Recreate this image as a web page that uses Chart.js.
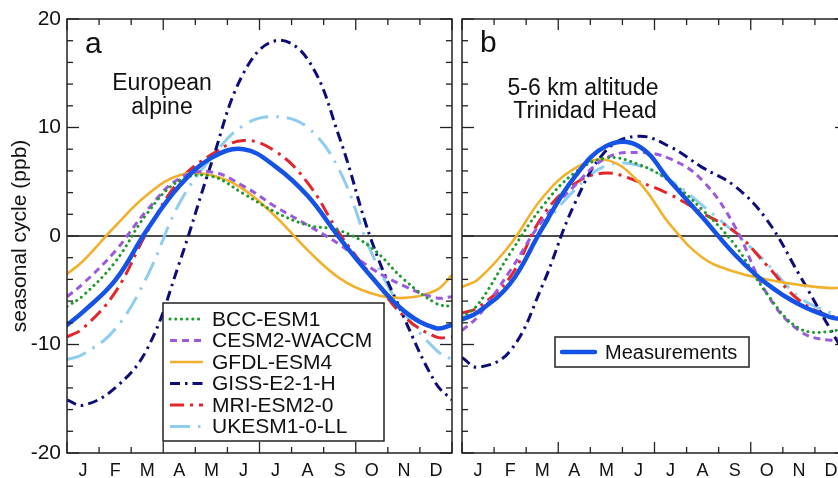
<!DOCTYPE html>
<html><head><meta charset="utf-8">
<script src="https://cdn.jsdelivr.net/npm/chart.js@4.4.1/dist/chart.umd.min.js"></script>
<style>
html,body{margin:0;padding:0;overflow:hidden;background:#fff;width:838px;height:478px;}
canvas{position:absolute;top:0;}
#cA{left:0}
#cB{left:457px}
</style></head><body>
<canvas id="cA" width="457" height="478"></canvas>
<canvas id="cB" width="400" height="478"></canvas>
<script>
// ---------- data ----------
const monthLabels = ['J','F','M','A','M','J','J','A','S','O','N','D'];
const xPos = [0,0.5,1.5,2.5,3.5,4.5,5.5,6.5,7.5,8.5,9.5,10.5,11.5,12];
const yTickValues = [-20,-10,0,10,20];
const modelNames = ['BCC-ESM1','CESM2-WACCM','GFDL-ESM4','GISS-E2-1-H','MRI-ESM2-0','UKESM1-0-LL'];
const measName = 'Measurements';

// panel a: European alpine
const aMeas  = [-8.2,-7.0,-4.1,0.6,4.6,7.2,8.0,6.4,3.7,-0.2,-3.8,-6.9,-8.5,-8.2];
const aBCC   = [-6.5,-5.5,-2.4,2.1,5.1,5.5,3.9,2.2,1.0,0.5,-1.1,-4.0,-6.2,-6.5];
const aCESM  = [-5.6,-4.4,-1.4,2.4,5.3,5.9,4.6,2.7,1.0,-0.8,-3.0,-4.6,-5.7,-5.6];
const aGFDL  = [-3.5,-2.3,0.9,3.8,5.6,5.6,4.3,1.8,-1.3,-3.9,-5.3,-5.7,-5.0,-3.6];
const aGISS  = [-15.1,-15.6,-14.0,-10.4,-2.5,6.7,15.0,18.0,16.3,9.0,-0.5,-7.5,-13.6,-15.1];
const aMRI   = [-9.3,-8.5,-5.2,0.4,5.1,7.5,8.8,7.8,4.9,0.2,-3.7,-7.4,-9.3,-9.3];
const aUKESM = [-11.4,-10.9,-8.6,-3.7,3.0,7.2,10.2,11.0,10.0,6.0,-1.6,-7.0,-10.5,-11.4];

// panel b: 5-6 km altitude, Trinidad Head
const bMeas  = [-7.7,-7.0,-4.4,0.7,5.4,8.3,8.3,5.0,1.7,-1.7,-4.4,-6.3,-7.5,-7.7];
const bBCC   = [-7.5,-6.3,-1.6,2.7,5.8,7.2,6.6,5.0,2.4,-0.8,-5.3,-8.5,-8.8,-8.2];
const bCESM  = [-8.7,-7.4,-3.2,1.4,4.6,7.2,7.7,7.1,5.1,0.9,-5.3,-8.7,-9.6,-9.0];
const bGFDL  = [-4.7,-4.0,-0.8,3.5,6.2,7.0,5.0,1.0,-2.0,-3.3,-4.0,-4.5,-4.8,-4.7];
const bGISS  = [-11.2,-12.1,-10.6,-4.6,2.9,7.9,9.2,8.2,6.3,4.6,1.5,-3.5,-8.7,-11.2];
const bMRI   = [-7.1,-6.6,-3.8,1.8,4.8,5.8,5.0,3.8,2.1,0.4,-2.7,-5.9,-7.4,-7.3];
const bUKESM = [-7.5,-7.0,-4.4,0.6,4.2,6.5,6.5,5.1,2.8,0.3,-2.5,-5.6,-7.1,-7.4];

// ---------- styles ----------
const FONT = "'Liberation Sans', Arial, Helvetica, sans-serif";
const styles = {
  'BCC-ESM1':    {color:'#1f9a2c', width:3,   dash:[0.1,5.6], cap:'round'},
  'CESM2-WACCM': {color:'#9b59de', width:3,   dash:[7,5],     cap:'butt'},
  'GFDL-ESM4':   {color:'#f2b12c', width:2.6, dash:[],        cap:'butt'},
  'GISS-E2-1-H': {color:'#0d0d7a', width:3,   dash:[10,5,2.5,5], cap:'butt'},
  'MRI-ESM2-0':  {color:'#e3262b', width:3,   dash:[14,6,3,6],   cap:'butt'},
  'UKESM1-0-LL': {color:'#8ecdf0', width:3,   dash:[20,8,2.5,8], cap:'butt'},
  'Measurements':{color:'#1553e6', width:4.5, dash:[],        cap:'round'}
};

function makeDataset(name, values) {
  const s = styles[name];
  return {
    label: name,
    data: xPos.map((x, i) => ({x: x, y: values[i]})),
    borderColor: s.color,
    backgroundColor: s.color,
    borderWidth: s.width,
    borderDash: s.dash,
    borderCapStyle: s.cap,
    pointRadius: 0,
    tension: 0.4,
    fill: false
  };
}

function seriesFor(meas, list) {
  const ds = [makeDataset(measName, meas)];
  modelNames.forEach((n, i) => ds.push(makeDataset(n, list[i])));
  return ds;
}

function strokeLine(ctx, x1, y1, x2, y2) {
  ctx.beginPath(); ctx.moveTo(x1, y1); ctx.lineTo(x2, y2); ctx.stroke();
}

function decorPlugin(cfg) {
  return {
    id: 'decor',
    beforeDatasetsDraw(chart) {
      const {ctx, chartArea: a, scales: {y}} = chart;
      ctx.save();
      ctx.strokeStyle = '#111'; ctx.lineWidth = 1.3;
      const y0 = y.getPixelForValue(0);
      strokeLine(ctx, a.left, y0, a.right, y0);
      ctx.restore();
    },
    afterDraw(chart) {
      const {ctx, chartArea: a, scales: {x, y}} = chart;
      ctx.save();
      ctx.strokeStyle = '#222'; ctx.lineWidth = 1.5; ctx.setLineDash([]);
      ctx.strokeRect(a.left, a.top, a.right - a.left, a.bottom - a.top);
      ctx.lineWidth = 1.3;
      for (let v = -20; v <= 20; v += 2) {
        const py = y.getPixelForValue(v);
        const len = (v % 10 === 0) ? 12 : 6;
        strokeLine(ctx, a.left, py, a.left + len, py);
        strokeLine(ctx, a.right, py, a.right - len, py);
      }
      for (let m = 0; m <= 12; m++) {
        const px = x.getPixelForValue(m);
        const len = (m % 3 === 0) ? 11 : 6;
        strokeLine(ctx, px, a.bottom, px, a.bottom - len);
        strokeLine(ctx, px, a.top, px, a.top + len);
      }
      // annotations
      ctx.fillStyle = '#111';
      ctx.textBaseline = 'alphabetic';
      ctx.textAlign = 'left';
      ctx.font = '30px ' + FONT;
      ctx.fillText(cfg.panel.text, cfg.panel.x, cfg.panel.y);
      ctx.textAlign = 'center';
      ctx.font = '23px ' + FONT;
      cfg.notes.forEach(n => ctx.fillText(n.text, n.x, n.y));
      // legend
      const L = cfg.legend;
      ctx.fillStyle = '#fff';
      ctx.fillRect(L.x1, L.y1, L.x2 - L.x1, L.y2 - L.y1);
      ctx.strokeStyle = '#222'; ctx.lineWidth = 1.5;
      ctx.strokeRect(L.x1, L.y1, L.x2 - L.x1, L.y2 - L.y1);
      ctx.font = L.font + 'px ' + FONT;
      ctx.textAlign = 'left'; ctx.textBaseline = 'middle';
      L.names.forEach((name, i) => {
        const s = styles[name];
        const ry = L.rowY + i * L.step;
        ctx.strokeStyle = s.color; ctx.lineWidth = s.width;
        ctx.lineCap = s.cap; ctx.setLineDash(s.dash);
        strokeLine(ctx, L.sx1, ry, L.sx2, ry);
        ctx.setLineDash([]); ctx.lineCap = 'butt';
        ctx.fillStyle = '#111';
        ctx.fillText(name, L.tx, ry + 1);
      });
      ctx.restore();
    }
  };
}

function makeOptions(showY) {
  return {
    responsive: false,
    animation: false,
    devicePixelRatio: 1,
    layout: {padding: showY ? {top: 19, right: 5, left: 0, bottom: 0} : {top: 19, right: 10, left: 5, bottom: 0}},
    plugins: {legend: {display: false}, tooltip: {enabled: false}},
    scales: {
      x: {
        type: 'linear', min: 0, max: 12, position: 'bottom',
        grid: {display: false, drawTicks: false}, border: {display: false},
        afterBuildTicks: (s) => { s.ticks = monthLabels.map((m, i) => ({value: i + 0.5})); },
        afterFit: (s) => { s.height = 25; },
        ticks: {
          autoSkip: false, maxRotation: 0, padding: 7, color: '#111',
          font: {family: FONT, size: 18},
          callback: (v, i) => monthLabels[i]
        }
      },
      y: {
        type: 'linear', min: -20, max: 20, display: showY,
        grid: {display: false, drawTicks: false}, border: {display: false},
        afterBuildTicks: (s) => { s.ticks = yTickValues.map(v => ({value: v})); },
        afterFit: (s) => { s.width = showY ? 67 : 0; },
        ticks: {padding: 6, color: '#111', font: {family: FONT, size: 21}, callback: (v) => String(v)},
        title: {display: true, text: 'seasonal cycle (ppb)', color: '#111',
                font: {family: FONT, size: 21}, padding: {top: 8, bottom: 0}}
      }
    }
  };
}

new Chart(document.getElementById('cA'), {
  type: 'line',
  data: {datasets: seriesFor(aMeas, [aBCC, aCESM, aGFDL, aGISS, aMRI, aUKESM])},
  options: makeOptions(true),
  plugins: [decorPlugin({
    panel: {text: 'a', x: 85, y: 53},
    notes: [{text: 'European', x: 162, y: 90}, {text: 'alpine', x: 162, y: 114}],
    legend: {x1: 163, y1: 303, x2: 384, y2: 441, rowY: 319, step: 21.5,
             sx1: 170, sx2: 203, tx: 212, font: 21, names: modelNames}
  })]
});

new Chart(document.getElementById('cB'), {
  type: 'line',
  data: {datasets: seriesFor(bMeas, [bBCC, bCESM, bGFDL, bGISS, bMRI, bUKESM])},
  options: makeOptions(false),
  plugins: [decorPlugin({
    panel: {text: 'b', x: 23, y: 52},
    notes: [{text: '5-6 km altitude', x: 126, y: 95}, {text: 'Trinidad Head', x: 128, y: 118}],
    legend: {x1: 98, y1: 337, x2: 292, y2: 367, rowY: 352, step: 0,
             sx1: 105, sx2: 138, tx: 148, font: 20, names: [measName]}
  })]
});
</script>
</body></html>
